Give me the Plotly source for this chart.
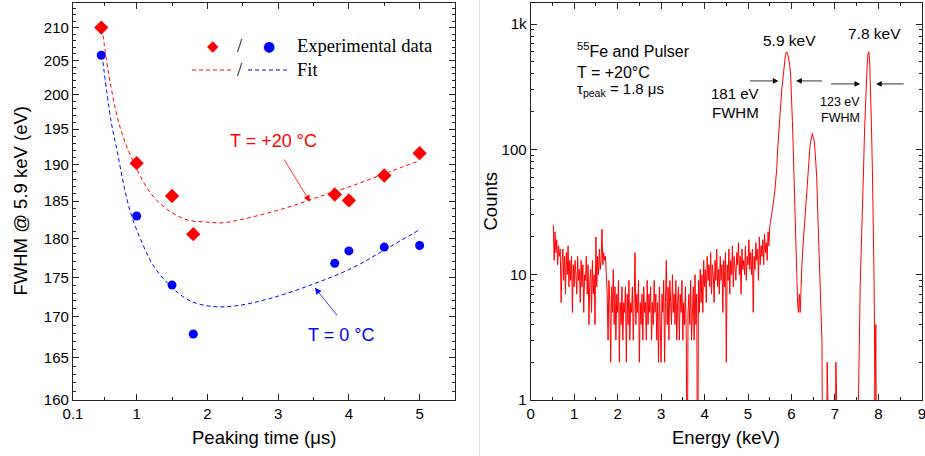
"""FWHM vs peaking time and 55Fe + pulser spectrum."""

import math

import numpy as np
import plotly.graph_objects as go

RED = "#ff0000"
BLUE = "#0000ff"
AXIS = "#222222"
SANS = "Arial, 'Liberation Sans', sans-serif"
SERIF = "'Times New Roman', 'Liberation Serif', serif"

# left panel: measured FWHM @ 5.9 keV (eV) vs peaking time (us)
peaking_time = [0.5, 1.0, 1.5, 1.8, 3.8, 4.0, 4.5, 5.0]
fwhm_20c = [210.0, 190.2, 185.7, 180.6, 185.9, 185.1, 188.5, 191.6]
fwhm_0c = [205.8, 183.0, 174.0, 167.9, 176.8, 178.4, 178.9, 179.1]

# fit curves
fit_time_20c = [0.51, 0.635, 0.776, 0.962, 1.196, 1.43, 1.71, 1.99, 2.224, 2.41,
                2.645, 3.113, 3.58, 4.05, 4.516, 4.983]
fit_fwhm_20c = [209.9, 201.2, 194.9, 190.2, 186.1, 183.9, 182.5, 182.2, 182.1, 182.4,
                182.9, 184.1, 185.6, 187.1, 188.8, 190.5]
fit_time_0c = [0.51, 0.635, 0.73, 0.822, 0.916, 1.056, 1.243, 1.477, 1.757, 2.084,
               2.41, 2.88, 3.487, 4.05, 4.516, 4.983]
fit_fwhm_0c = [205.9, 196.3, 191.6, 187.0, 183.4, 179.9, 176.4, 173.9, 172.0, 171.3,
               171.4, 172.3, 174.1, 176.2, 178.6, 181.1]

# right panel: spectrum, 20 eV channels starting at 0.52 keV
channel_start_kev = 0.52
channel_width_kev = 0.02
counts = [
    25, 13, 22, 15, 19, 12, 17, 14, 16, 6,          # 0.52-0.70
    12, 16, 9, 14, 7, 15, 10, 17, 8, 13,            # 0.72-0.90
    9, 14, 5, 12, 8, 13, 10, 7, 14, 9,              # 0.92-1.10
    11, 6, 13, 8, 12, 5, 10, 9, 14, 7,              # 1.12-1.30
    12, 4, 9, 11, 5, 13, 7, 10, 4, 20,              # 1.32-1.50
    8, 14, 10, 16, 11, 13, 23, 12, 15, 13,          # 1.52-1.70
    14, 11, 7, 3, 9, 6, 2, 8, 5, 11,                # 1.72-1.90
    4, 8, 3, 7, 5, 9, 2, 6, 4, 8,                   # 1.92-2.10
    3, 6, 5, 8, 2, 7, 4, 9, 3, 6,                   # 2.12-2.30
    5, 8, 3, 6, 15, 4, 7, 5, 9, 2,                  # 2.32-2.50
    6, 4, 7, 3, 8, 5, 6, 3, 9, 4,                   # 2.52-2.70
    7, 5, 8, 3, 6, 4, 9, 5, 7, 3,                   # 2.72-2.90
    6, 2, 8, 4, 2, 7, 5, 9, 2, 6,                   # 2.92-3.10
    13, 4, 8, 3, 9, 6, 4, 10, 5, 7,                 # 3.12-3.30
    4, 9, 3, 6, 8, 3, 7, 5, 9, 3,                   # 3.32-3.50
    6, 4, 8, 3, 0, 5, 7, 4, 9, 3,                   # 3.52-3.70
    5, 8, 3, 10, 4, 7, 0, 9, 5, 11,                 # 3.72-3.90
    6, 10, 5, 13, 8, 11, 6, 14, 9, 12,              # 3.92-4.10
    8, 15, 7, 12, 10, 6, 13, 9, 16, 8,              # 4.12-4.30
    11, 7, 14, 9, 12, 5, 13, 8, 15, 2,              # 4.32-4.50
    12, 9, 16, 7, 13, 10, 17, 8, 14, 11,            # 4.52-4.70
    9, 15, 12, 18, 10, 14, 7, 16, 11, 13,           # 4.72-4.90
    10, 17, 9, 14, 12, 19, 11, 15, 10, 16,          # 4.92-5.10
    5, 14, 11, 18, 13, 16, 9, 20, 12, 17,           # 5.12-5.30
    14, 19, 12, 21, 15, 18, 13, 22, 17, 24,         # 5.32-5.50
    26, 30, 33, 36, 42, 48, 55, 70, 98, 130,        # 5.52-5.70
    165, 210, 250, 310, 370, 440, 500, 560, 600, 590,   # 5.72-5.90
    560, 520, 470, 390, 280, 170, 100, 55, 25, 14,  # 5.92-6.10
    9, 6, 5, 7, 5, 9, 12, 16, 20, 26,               # 6.12-6.30
    35, 45, 58, 72, 85, 100, 115, 128, 134, 125,    # 6.32-6.50
    118, 100, 82, 60, 35, 22, 14, 9, 6, 3,          # 6.52-6.70
    0, 0, 0, 0, 0, 2, 0, 0, 0, 0,                   # 6.72-6.90
    0, 0, 0, 0, 0, 2, 0, 0, 0, 0,                   # 6.92-7.10
    0, 0, 0, 0, 0, 0, 0, 0, 0, 0,                   # 7.12-7.30
    0, 0, 0, 0, 0, 0, 0, 0, 0, 0,                   # 7.32-7.50
    0, 1, 4, 8, 14, 22, 38, 75, 140, 230,           # 7.52-7.70
    340, 460, 580, 600, 480, 300, 150, 70, 28, 9,   # 7.72-7.90
    1, 4, 0, 0, 0, 0, 0, 0, 0, 0,                   # 7.92-8.10
]
energy = channel_start_kev + channel_width_kev * np.arange(len(counts))
# empty channels are pushed below the log axis so the line drops off the frame
counts_shown = [c if c > 0 else 0.1 for c in counts]

# plot area in pixels: left 73, right 922, top 3, bottom 400
L, R, T, B = 73, 3, 3, 56
W, H = 925, 456
PW, PH = W - L - R, H - T - B


def px_x(px: float) -> float:
    return (px - L) / PW


def px_y(py: float) -> float:
    return (H - B - py) / PH


fig = go.Figure()

fig.add_trace(
    go.Scatter(
        x=fit_time_20c, y=fit_fwhm_20c, mode="lines",
        line={"color": RED, "width": 1, "dash": "4px,3px", "shape": "spline"},
        xaxis="x", yaxis="y", showlegend=False,
    ),
)
fig.add_trace(
    go.Scatter(
        x=fit_time_0c, y=fit_fwhm_0c, mode="lines",
        line={"color": BLUE, "width": 1, "dash": "4px,3px", "shape": "spline"},
        xaxis="x", yaxis="y", showlegend=False,
    ),
)
fig.add_trace(
    go.Scatter(
        x=peaking_time, y=fwhm_20c, mode="markers",
        marker={"symbol": "diamond", "size": 11, "color": RED},
        xaxis="x", yaxis="y", showlegend=False,
    ),
)
fig.add_trace(
    go.Scatter(
        x=peaking_time, y=fwhm_0c, mode="markers",
        marker={"symbol": "circle", "size": 9, "color": BLUE},
        xaxis="x", yaxis="y", showlegend=False,
    ),
)
fig.add_trace(
    go.Scatter(
        x=energy, y=counts_shown, mode="lines",
        line={"color": RED, "width": 1},
        xaxis="x2", yaxis="y2", showlegend=False,
    ),
)

axis_common = {
    "automargin": False,
    "showline": True,
    "linecolor": AXIS,
    "linewidth": 1.2,
    "mirror": "ticks",
    "ticks": "inside",
    "ticklen": 6,
    "tickwidth": 1,
    "tickcolor": AXIS,
    "showgrid": False,
    "zeroline": False,
    "ticklabeloverflow": "allow",
    "tickfont": {"family": SANS, "size": 15, "color": "black"},
}
minor_common = {"ticks": "inside", "ticklen": 3, "tickwidth": 1, "tickcolor": AXIS, "showgrid": False}

fwhm_major = list(range(160, 211, 5))
fwhm_minor = [v for v in range(160, 214) if v % 5]
counts_major = [1, 10, 100, 1000]
counts_minor = [m * d for d in (1, 10, 100, 1000) for m in range(2, 10)]

fig.update_layout(
    width=W,
    height=H,
    margin={"l": L, "r": R, "t": T, "b": B},
    paper_bgcolor="white",
    plot_bgcolor="white",
    showlegend=False,
    xaxis={
        **axis_common,
        "domain": [0, px_x(455)],
        "range": [0.1, 5.5],
        "tickvals": [0.1, 1, 2, 3, 4, 5],
        "ticktext": ["0.1", "1", "2", "3", "4", "5"],
        "minor": {**minor_common, "tickmode": "array", "tickvals": [0.55, 1.5, 2.5, 3.5, 4.5]},
        "anchor": "y",
    },
    yaxis={
        **axis_common,
        "type": "log",
        "range": [math.log10(160), math.log10(213.8)],
        "tickvals": fwhm_major,
        "ticktext": [str(v) for v in fwhm_major],
        "minor": {**minor_common, "tickmode": "array", "tickvals": fwhm_minor},
        "anchor": "x",
    },
    xaxis2={
        **axis_common,
        "domain": [px_x(530.7), 1],
        "range": [0, 9.002],
        "tickvals": list(range(10)),
        "ticktext": [str(k) for k in range(10)],
        "minor": {**minor_common, "tickmode": "array", "tickvals": [k + 0.5 for k in range(9)]},
        "anchor": "y2",
    },
    yaxis2={
        **axis_common,
        "type": "log",
        "range": [0, 3.1676],
        "tickvals": counts_major,
        "ticktext": ["1", "10", "100", "1k"],
        "minor": {**minor_common, "tickmode": "array", "tickvals": counts_minor},
        "anchor": "x2",
    },
)

annotations = []


def text(px, py, s, size=18, color="black", family=SANS, xanchor="center", angle=0):
    annotations.append({
        "x": px_x(px), "y": px_y(py), "xref": "paper", "yref": "paper",
        "text": s, "showarrow": False, "xanchor": xanchor, "yanchor": "middle",
        "textangle": angle, "font": {"family": family, "size": size, "color": color},
    })


def arrow(x_tip, y_tip, x_tail, y_tail, xref, yref, color, size=1.6):
    annotations.append({
        "x": x_tip, "y": y_tip, "ax": x_tail, "ay": y_tail,
        "xref": xref, "yref": yref, "axref": xref, "ayref": yref,
        "text": "", "showarrow": True, "arrowhead": 2, "arrowsize": size,
        "arrowwidth": 0.8, "arrowcolor": color,
    })


# axis titles
text(20, 201.5, "FWHM @ 5.9 keV (eV)", size=18.5, angle=-90)
text(264, 438, "Peaking time (μs)", size=18.5)
text(490, 201.5, "Counts", size=18.5, angle=-90)
text(726, 438, "Energy (keV)", size=18.5)

# legend of the left panel
text(213, 46, "◆", size=15, color=RED, family="DejaVu Sans")
text(240, 46, "/", size=18.5, family=SERIF)
text(268.5, 46, "●", size=14, color=BLUE, family="DejaVu Sans")
text(295, 46, "Experimental data", size=18.5, family=SERIF, xanchor="left")
text(240, 70, "/", size=18.5, family=SERIF)
text(295, 70, "Fit", size=18.5, family=SERIF, xanchor="left")

# temperature labels
text(273, 141, "T = +20 °C", size=18, color=RED)
text(341, 335, "T = 0 °C", size=18, color=BLUE)
arrow(3.45, 2.2670, 3.07, 2.2809, "x", "y", RED)
arrow(3.52, 2.2397, 3.85, 2.2305, "x", "y", BLUE)

# right panel labels
text(575, 50, "<sup>55</sup>Fe and Pulser", size=16, xanchor="left")
text(575, 72, "T = +20°C", size=16, xanchor="left")
text(575, 90, "τ<sub>peak</sub> = 1.8 μs", size=15, xanchor="left")
text(789, 40, "5.9 keV", size=15.5)
text(874.5, 33, "7.8 keV", size=15.5)
text(735, 94, "181 eV", size=15)
text(735, 112, "FWHM", size=15)
text(840, 102, "123 eV", size=12.5)
text(840, 118, "FWHM", size=12.5)

# FWHM arrows (energy in keV, counts as log10)
arrow(5.70, 2.546, 5.008, 2.546, "x2", "y2", "black", size=1.4)
arrow(6.106, 2.546, 6.734, 2.546, "x2", "y2", "black", size=1.4)
arrow(7.578, 2.522, 6.872, 2.522, "x2", "y2", "black", size=1.4)
arrow(7.948, 2.522, 8.615, 2.522, "x2", "y2", "black", size=1.4)

fig.update_layout(
    annotations=annotations,
    shapes=[
        # dashed fit samples in the legend
        {"type": "line", "xref": "paper", "yref": "paper",
         "x0": px_x(192), "x1": px_x(232), "y0": px_y(70), "y1": px_y(70),
         "line": {"color": RED, "width": 1, "dash": "4px,3px"}},
        {"type": "line", "xref": "paper", "yref": "paper",
         "x0": px_x(248), "x1": px_x(287), "y0": px_y(70), "y1": px_y(70),
         "line": {"color": BLUE, "width": 1, "dash": "4px,3px"}},
        # faint divider between the two panels
        {"type": "line", "xref": "paper", "yref": "paper",
         "x0": px_x(479.5), "x1": px_x(479.5), "y0": px_y(456), "y1": px_y(0),
         "line": {"color": "#e0e0e0", "width": 1}},
    ],
)

# the page body has a default 8px margin; drop it so the figure sits at the window corner
fig.write_html(
    "out.html",
    config={"displayModeBar": False},
    post_script="document.body.style.margin = '0px';",
)
